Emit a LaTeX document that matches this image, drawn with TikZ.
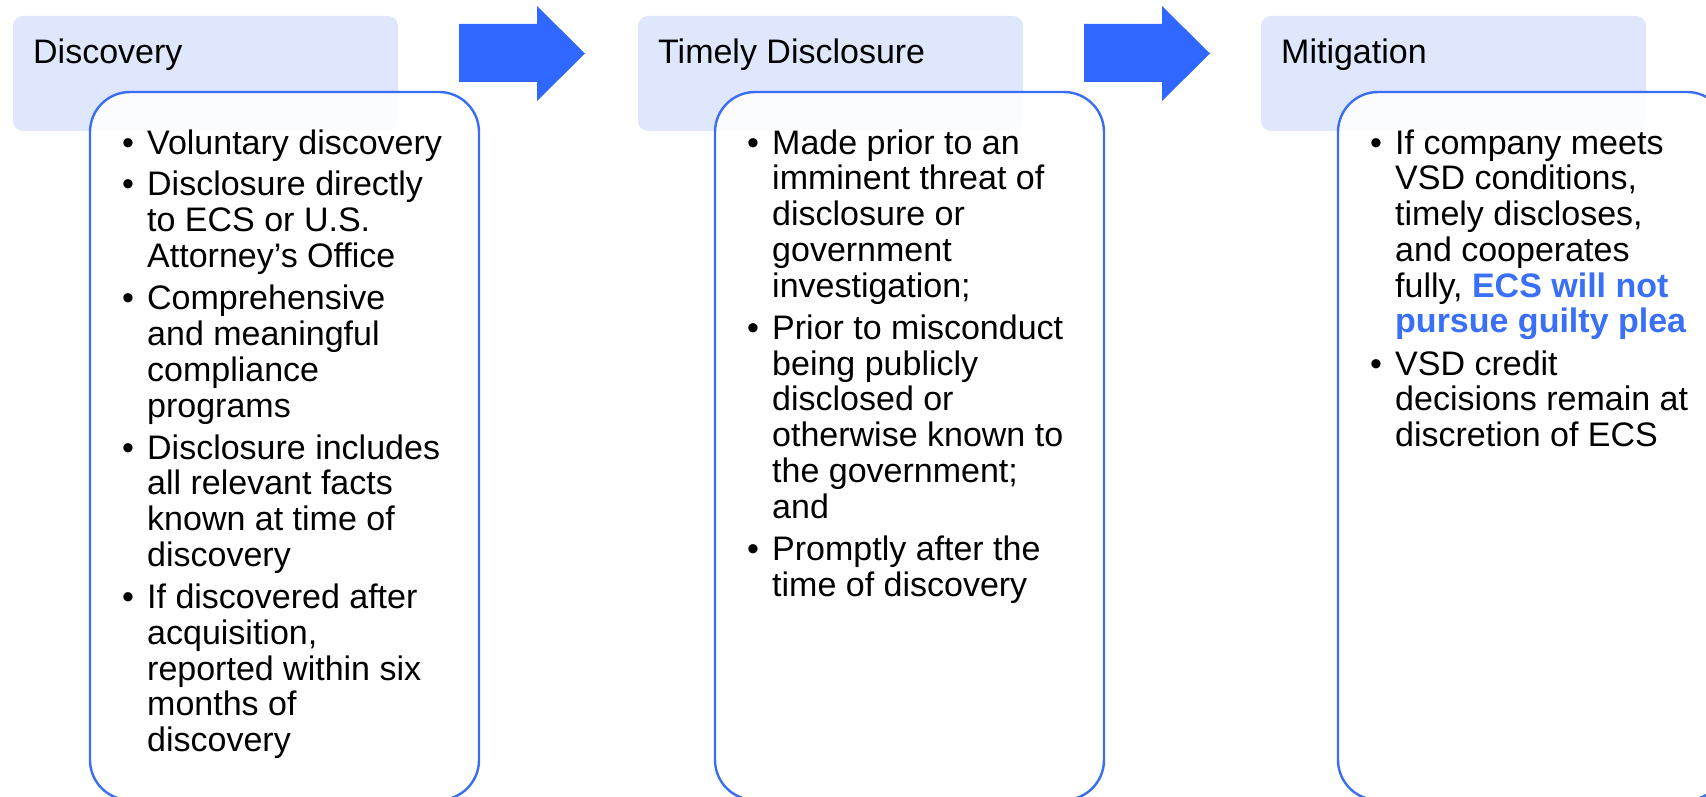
\documentclass[tikz,border=0pt]{standalone}
\usepackage{fontspec}
\setmainfont{Liberation Sans}

\definecolor{arrowblue}{HTML}{3068FF}
\definecolor{borderblue}{HTML}{3A6EF2}
\definecolor{headerfill}{HTML}{DFE7FC}
\definecolor{textblue}{HTML}{3A6FF8}

% lines of one bullet item; the node's base is the first line's baseline
\newcommand\stacklines[1]{\vtop{\baselineskip=35.8pt\lineskiplimit=-20pt\halign{##\hfil\cr#1\crcr}}}

\tikzset{
  headerbox/.style={fill=headerfill, rounded corners=10pt},
  contentbox/.style={draw=borderblue, line width=2.4pt, fill=white, fill opacity=0.9, rounded corners=40pt},
  bigarrow/.style={fill=arrowblue},
  txt/.style={inner sep=0pt, anchor=base west, font=\fontsize{34}{35.8}\selectfont, text=black},
  dot/.style={inner sep=0pt, anchor=base west, font=\fontsize{34}{35.8}\selectfont, text=black},
}

\begin{document}
\begin{tikzpicture}[x=1pt,y=-1pt]
\useasboundingbox (0,0) rectangle (1706,797);

% column headers
\foreach \c in {0,625,1248}{
  \fill[headerbox] (13+\c,16) rectangle (398+\c,131);
}
\node[txt] (tA) at (33,64) {Discovery};
\node[txt] (tB) at (658,64) {Timely Disclosure};
\node[txt] (tC) at (1281,64) {Mitigation};

% content boxes
\foreach \c in {0,625,1248}{
  \filldraw[contentbox] (90+\c,92) rectangle (479+\c,800);
}

% arrows between the columns
\foreach \c in {0,625}{
  \fill[bigarrow] (459+\c,24) -- (537+\c,24) -- (537+\c,6) -- (585+\c,53.5)
    -- (537+\c,101) -- (537+\c,82) -- (459+\c,82) -- cycle;
}

% Discovery bullets
\node[dot] (bA1) at (122,154) {•};
\node[txt] (iA1) at (147,154) {\stacklines{Voluntary discovery}};
\node[dot] (bA2) at (122,196) {•};
\node[txt] (iA2) at (147,196) {\stacklines{Disclosure directly\cr to ECS or U.S.\cr Attorney’s Office}};
\node[dot] (bA3) at (122,309.6) {•};
\node[txt] (iA3) at (147,309.6) {\stacklines{Comprehensive\cr and meaningful\cr compliance\cr programs}};
\node[dot] (bA4) at (122,459) {•};
\node[txt] (iA4) at (147,459) {\stacklines{Disclosure includes\cr all relevant facts\cr known at time of\cr discovery}};
\node[dot] (bA5) at (122,608.4) {•};
\node[txt] (iA5) at (147,608.4) {\stacklines{If discovered after\cr acquisition,\cr reported within six\cr months of\cr discovery}};

% Timely Disclosure bullets
\node[dot] (bB1) at (747,154) {•};
\node[txt] (iB1) at (772,154) {\stacklines{Made prior to an\cr imminent threat of\cr disclosure or\cr government\cr investigation;}};
\node[dot] (bB2) at (747,339.2) {•};
\node[txt] (iB2) at (772,339.2) {\stacklines{Prior to misconduct\cr being publicly\cr disclosed or\cr otherwise known to\cr the government;\cr and}};
\node[dot] (bB3) at (747,560.2) {•};
\node[txt] (iB3) at (772,560.2) {\stacklines{Promptly after the\cr time of discovery}};

% Mitigation bullets
\node[dot] (bC1) at (1370,154) {•};
\node[txt] (iC1) at (1395,154) {\stacklines{If company meets\cr VSD conditions,\cr timely discloses,\cr and cooperates\cr fully, {\color{textblue}\bfseries ECS will not}\cr {\color{textblue}\bfseries pursue guilty plea}}};
\node[dot] (bC2) at (1370,375) {•};
\node[txt] (iC2) at (1395,375) {\stacklines{VSD credit\cr decisions remain at\cr discretion of ECS}};
\end{tikzpicture}
\end{document}
